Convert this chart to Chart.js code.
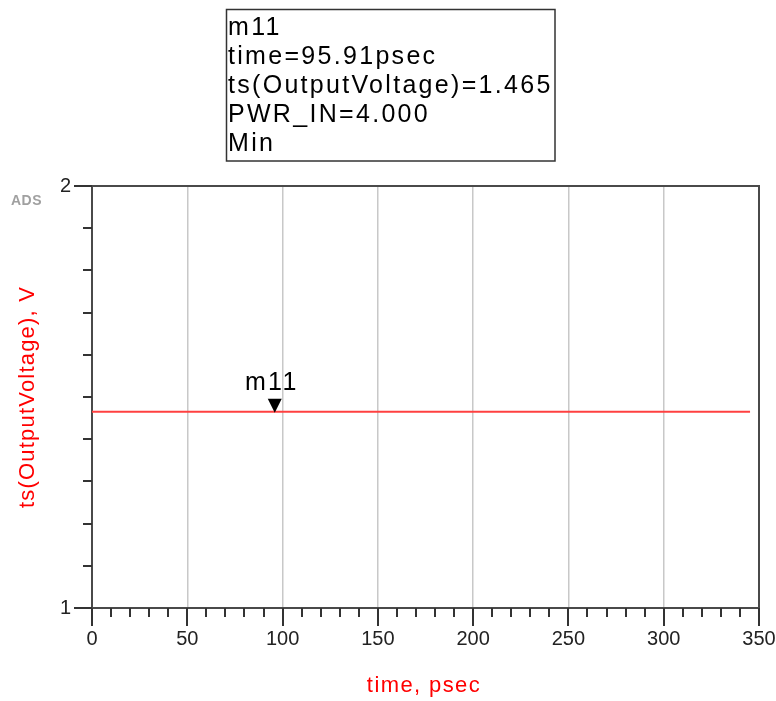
<!DOCTYPE html>
<html>
<head>
<meta charset="utf-8">
<script src="https://cdn.jsdelivr.net/npm/chart.js@4"></script>
<style>
html,body{margin:0;padding:0;background:#fff;}
#c{display:block;}
</style>
</head>
<body>
<canvas id="c" width="776" height="701"></canvas>
<script>
// ---- data ----
const timePs = [0, 95.91, 345.3];
const voltage = [1.465, 1.465, 1.465];
const xTickLabels = [0, 50, 100, 150, 200, 250, 300, 350];
const yTickLabels = [1, 2];
const markerName = 'm11';
const markerTime = 95.91;
const markerValue = 1.465;
const markerLines = ['m11', 'time=95.91psec', 'ts(OutputVoltage)=1.465', 'PWR_IN=4.000', 'Min'];
const xTitle = 'time, psec';
const yTitle = 'ts(OutputVoltage), V';

const FONT = "Arial, 'Liberation Sans', sans-serif";
const isMajorX = v => xTickLabels.some(t => Math.abs(t - v) < 1e-6);
const isMajorY = v => yTickLabels.some(t => Math.abs(t - v) < 1e-6);

const decor = {
  id: 'decor',
  afterDraw(chart) {
    const ctx = chart.ctx;
    const xs = chart.scales.x, ys = chart.scales.y;
    const a = chart.chartArea;
    ctx.save();
    // top and right frame
    ctx.strokeStyle = '#4a4a4a';
    ctx.lineWidth = 2;
    ctx.beginPath();
    ctx.moveTo(a.left, a.top); ctx.lineTo(a.right, a.top); ctx.lineTo(a.right, a.bottom);
    ctx.stroke();
    // ticks
    ctx.strokeStyle = '#333';
    ctx.lineWidth = 2;
    ctx.beginPath();
    xs.ticks.forEach(t => {
      const px = Math.round(xs.getPixelForValue(t.value));
      const len = isMajorX(t.value) ? 18 : 9;
      ctx.moveTo(px, a.bottom); ctx.lineTo(px, a.bottom + len);
    });
    ys.ticks.forEach(t => {
      const py = Math.round(ys.getPixelForValue(t.value));
      const len = isMajorY(t.value) ? 18 : 9;
      ctx.moveTo(a.left, py); ctx.lineTo(a.left - len, py);
    });
    ctx.stroke();

    // marker
    const mx = xs.getPixelForValue(markerTime);
    const my = ys.getPixelForValue(markerValue);
    ctx.fillStyle = '#000';
    ctx.beginPath();
    ctx.moveTo(mx - 7, my - 13); ctx.lineTo(mx + 7, my - 13); ctx.lineTo(mx, my + 1);
    ctx.closePath(); ctx.fill();
    ctx.font = '25px ' + FONT;
    if ('letterSpacing' in ctx) ctx.letterSpacing = '2.3px';
    ctx.textAlign = 'center';
    ctx.textBaseline = 'middle';
    ctx.fillText(markerName, mx - 3, my - 29);

    // annotation box
    ctx.strokeStyle = '#333';
    ctx.lineWidth = 1.5;
    ctx.strokeRect(226.5, 9.5, 328.5, 151.5);
    ctx.textAlign = 'left';
    markerLines.forEach((s, i) => ctx.fillText(s, 228, 28 + 29 * i));

    // axis titles
    ctx.fillStyle = '#ff0000';
    ctx.font = '22px ' + FONT;
    ctx.letterSpacing = '1.4px';
    ctx.textAlign = 'center';
    ctx.fillText(xTitle, 424, 686);
    ctx.save();
    ctx.translate(28, 397);
    ctx.rotate(-Math.PI / 2);
    ctx.letterSpacing = '1.2px';
    ctx.fillText(yTitle, 0, 0);
    ctx.restore();

    // ADS tag
    ctx.letterSpacing = '0.5px';
    ctx.fillStyle = '#a0a0a0';
    ctx.font = 'bold 14px ' + FONT;
    ctx.textAlign = 'left';
    ctx.fillText('ADS', 11, 201);
    ctx.restore();
  }
};

new Chart(document.getElementById('c'), {
  type: 'line',
  data: {
    datasets: [{
      data: timePs.map((t, i) => ({ x: t, y: voltage[i] })),
      borderColor: '#ff4040',
      borderWidth: 2,
      pointRadius: 0,
      tension: 0,
      fill: false
    }]
  },
  options: {
    responsive: false,
    devicePixelRatio: 1,
    animation: false,
    layout: { padding: { left: 0, top: 186, right: 17, bottom: 0 } },
    plugins: { legend: { display: false }, tooltip: { enabled: false } },
    scales: {
      x: {
        type: 'linear', min: 0, max: 350,
        ticks: {
          stepSize: 10, autoSkip: false, maxRotation: 0,
          callback: v => isMajorX(v) ? String(Math.round(v)) : '',
          font: { family: FONT, size: 20 }, color: '#222', padding: 19
        },
        grid: {
          drawTicks: false,
          lineWidth: 1.5,
          color: c => (c.tick && c.tick.value % 50 === 0 && c.tick.value !== 0 && c.tick.value !== 350) ? '#c8c8c8' : 'rgba(0,0,0,0)'
        },
        border: { color: '#4a4a4a', width: 2 },
        afterFit: s => { s.height = 93; s.paddingRight = 0; s.paddingLeft = 0; }
      },
      y: {
        type: 'linear', min: 1, max: 2,
        ticks: {
          stepSize: 0.1, autoSkip: false,
          callback: v => isMajorY(v) ? String(Math.round(v)) : '',
          font: { family: FONT, size: 20 }, color: '#222', padding: 21
        },
        grid: { drawTicks: false, color: 'rgba(0,0,0,0)' },
        border: { color: '#4a4a4a', width: 2 },
        afterFit: s => { s.width = 92; s.paddingTop = 0; s.paddingBottom = 0; }
      }
    }
  },
  plugins: [decor]
});
</script>
</body>
</html>
